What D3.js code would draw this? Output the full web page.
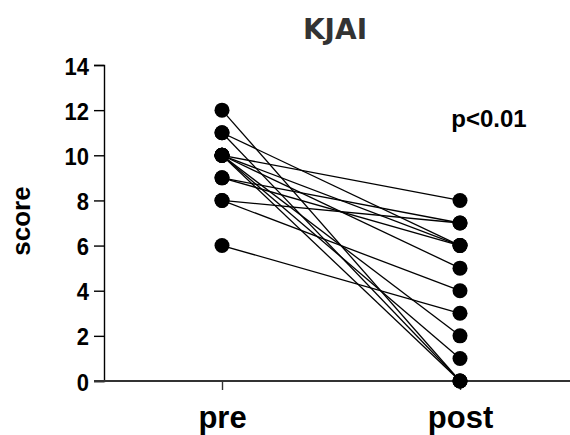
<!DOCTYPE html>
<html>
<head>
<meta charset="utf-8">
<script src="https://cdn.jsdelivr.net/npm/d3@7"></script>
<style>
  body { margin: 0; background: #fff; }
  svg { display: block; }
  text { font-family: "Liberation Sans", Arial, sans-serif; font-weight: bold; }
</style>
</head>
<body>
<svg id="chart" width="570" height="435"></svg>
<script>
// paired scores, one entry per subject
let groups = ['pre', 'post']
let pre_scores  = [12, 11, 11, 10, 10, 10, 10, 10, 10, 9, 9, 8, 8, 6]
let post_scores = [0, 6, 0, 8, 6, 5, 0, 1, 2, 7, 6, 7, 4, 3]
let y_ticks = [0, 2, 4, 6, 8, 10, 12, 14]
let title = 'KJAI'
let y_label = 'score'
let p_label = 'p<0.01'

let pad = { l: 104, r: 0, t: 65, b: 54 }
let width = 570
let height = 435

let svg = d3.select('#chart')

let x = d3.scalePoint()
    .domain(groups)
    .range([222, 460])

let y = d3.scaleLinear()
    .domain([0, 14])
    .range([height - pad.b, pad.t])

// y axis
let y_axis = svg.append('g')
    .attr('transform', `translate(${pad.l},0)`)
    .call(d3.axisLeft(y).tickValues(y_ticks).tickSize(10).tickSizeOuter(10).tickPadding(5))
y_axis.selectAll('path, line').attr('stroke', '#000').attr('stroke-width', 1.4)
// labels in the original are a bit taller than wide, stretch around the tick
y_axis.selectAll('.tick text')
    .attr('font-size', 22)
    .attr('fill', '#000')
    .attr('dy', '0.37em')
    .attr('transform', 'scale(1,1.12)')

// x axis
let x_axis = svg.append('g')
    .attr('transform', `translate(0,${y(0)})`)
    .call(d3.axisBottom(x).tickSize(9).tickSizeOuter(0).tickPadding(16))
x_axis.select('.domain').remove()
x_axis.append('line')
    .attr('x1', pad.l - 10)
    .attr('x2', width)
    .attr('stroke', '#333')
    .attr('stroke-width', 1.8)
x_axis.selectAll('line').attr('stroke', '#333')
x_axis.selectAll('.tick line').attr('stroke-width', 1.4)
x_axis.selectAll('text')
    .attr('font-size', 31)
    .attr('fill', '#000')

// paired lines
let pairs = pre_scores.map((d, i) => ({ pre: d, post: post_scores[i] }))

svg.append('g').selectAll('line').data(pairs).enter()
    .append('line')
    .attr('x1', x('pre'))
    .attr('y1', d => y(d.pre))
    .attr('x2', x('post'))
    .attr('y2', d => y(d.post))
    .attr('stroke', '#000')
    .attr('stroke-width', 1.3)

let dots = []
pairs.forEach(d => {
    dots.push({ g: 'pre', v: d.pre })
    dots.push({ g: 'post', v: d.post })
})

svg.append('g').selectAll('circle').data(dots).enter()
    .append('circle')
    .attr('cx', d => x(d.g))
    .attr('cy', d => y(d.v))
    .attr('r', 7.5)
    .attr('fill', '#000')

// labels
svg.append('text')
    .attr('x', 335)
    .attr('y', 39)
    .attr('text-anchor', 'middle')
    .attr('font-size', 28)
    .attr('fill', '#333')
    .style('font-family', '"DejaVu Sans", Verdana, sans-serif')
    .text(title)

svg.append('text')
    .attr('transform', `translate(30,${(y(0) + y(14)) / 2 - 2}) rotate(-90)`)
    .attr('text-anchor', 'middle')
    .attr('font-size', 26)
    .attr('fill', '#000')
    .text(y_label)

svg.append('text')
    .attr('x', 489)
    .attr('y', 127)
    .attr('text-anchor', 'middle')
    .attr('font-size', 24)
    .attr('fill', '#000')
    .text(p_label)
</script>
</body>
</html>
